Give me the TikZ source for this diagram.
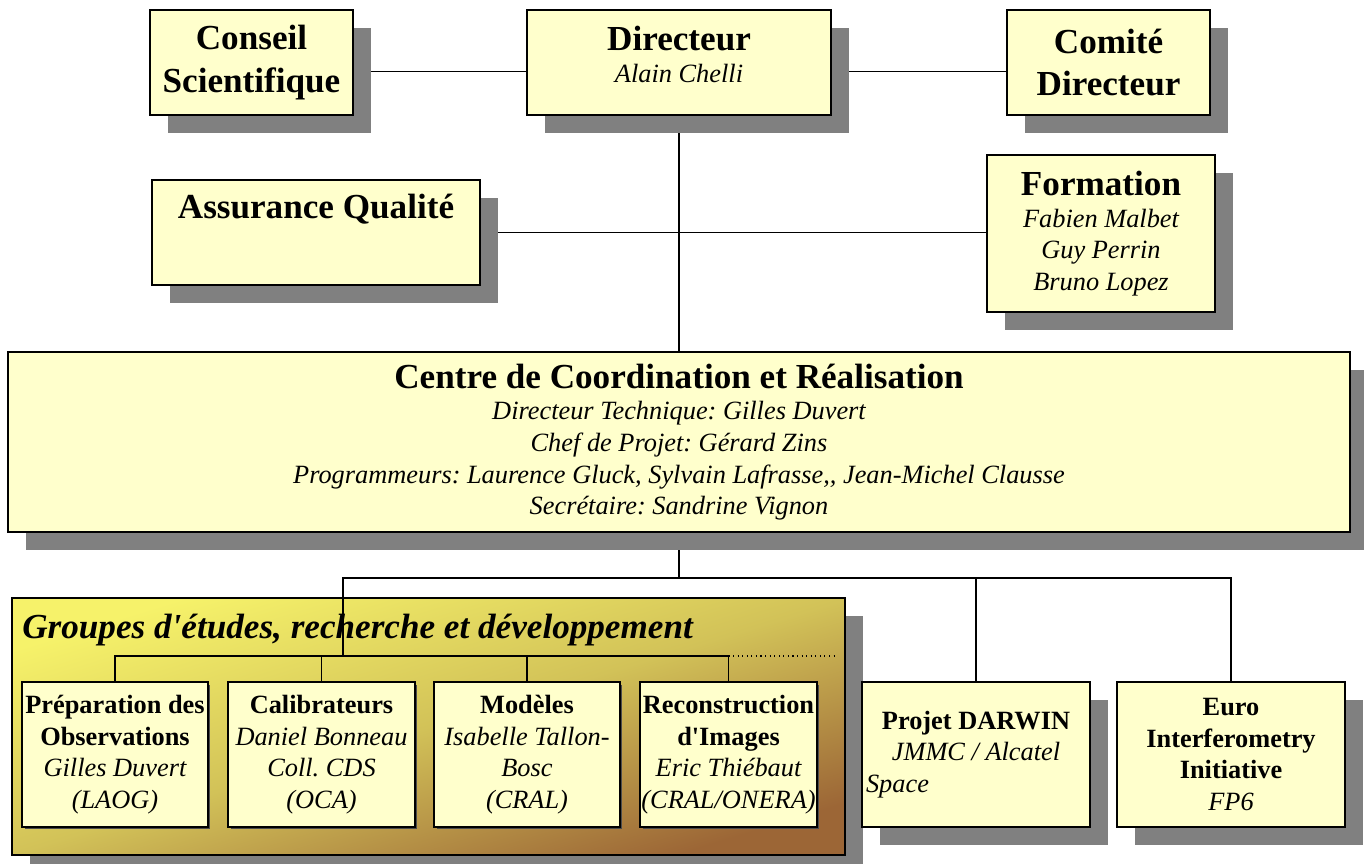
\documentclass[tikz,border=0pt]{standalone}
\usepackage{fontspec}
\setmainfont{Liberation Serif}
\usetikzlibrary{positioning,shadows,backgrounds}
\definecolor{boxYel}{HTML}{FFFFCC}
\definecolor{grpTop}{HTML}{F6F26A}
\definecolor{grpMid}{HTML}{D2C258}
\definecolor{grpBot}{HTML}{9C6636}
\newcommand{\hdB}{\fontsize{20}{24}\selectfont\bfseries\upshape}
\newcommand{\smB}{\fontsize{15}{18}\selectfont\bfseries\upshape}
\newcommand{\nmI}{\fontsize{15}{18}\selectfont\mdseries\itshape}
\frenchspacing

\begin{document}
\begin{tikzpicture}[x=0.02cm,y=-0.02cm,
                    orgND/.style={rectangle,
                                  draw=black,
                                  line width=1.1pt,
                                  fill=boxYel,
                                  drop shadow={shadow xshift=0.36cm,
                                               shadow yshift=-0.36cm,
                                               fill=black!50,
                                               opacity=1},
                                  align=center,
                                  inner sep=0pt,
                                  font=\nmI},
                    subND/.style={orgND,
                                  minimum height=2.9cm},
                    grpND/.style={rectangle,
                                  draw=black,
                                  line width=1.1pt,
                                  fill=boxYel,
                                  drop shadow={shadow xshift=0.05cm,
                                               shadow yshift=-0.05cm,
                                               fill=black!70,
                                               opacity=1},
                                  align=center,
                                  inner sep=0pt,
                                  minimum height=2.9cm,
                                  font=\nmI},
                    txtND/.style={align=center,
                                  inner sep=0pt,
                                  font=\nmI},
                    lnND/.style={line width=1pt}]
    \useasboundingbox (0,0) rectangle (1364,864);
    % top row
    \node[orgND, minimum width=4.06cm, minimum height=2.1cm, font=\hdB](cons) at (251.5,62.5)
        {Conseil\\Scientifique};
    \node[orgND, minimum width=6.08cm, minimum height=2.1cm](dir) at (679,62.5) {};
    \node[txtND, below=0.34cm of dir.north](dirT) {\hdB Directeur\\\nmI Alain Chelli};
    \node[orgND, minimum width=4.06cm, minimum height=2.1cm, font=\hdB](comi) at (1108.5,62.5)
        {Comité\\Directeur};
    % second row
    \node[orgND, minimum width=6.56cm, minimum height=2.1cm](assu) at (316,232.5) {};
    \node[txtND, below=0.3cm of assu.north](assuT) {\hdB Assurance Qualité};
    \node[orgND, minimum width=4.56cm, minimum height=3.14cm](form) at (1101,233.5)
        {\hdB Formation\\\nmI Fabien Malbet\\\nmI Guy Perrin\\\nmI Bruno Lopez};
    % centre
    \node[orgND, minimum width=26.84cm, minimum height=3.6cm](ctr) at (679,442)
        {\hdB Centre de Coordination et Réalisation\\
         \nmI Directeur Technique: Gilles Duvert\\
         \nmI Chef de Projet: Gérard Zins\\
         \nmI Programmeurs: Laurence Gluck, Sylvain Lafrasse,\kern0pt, Jean-Michel Clausse\\
         \nmI Secrétaire: Sandrine Vignon};
    % groupes
    \node[orgND, minimum width=16.66cm, minimum height=5.14cm,
          top color=grpTop, bottom color=grpBot, middle color=grpMid,
          shading angle=17](grp) at (428.5,726.5) {};
    \node[anchor=west, inner sep=0pt,
          font=\fontsize{20}{24}\selectfont\bfseries\itshape](grpT) at (22,630)
        {Groupes d\textquotesingle études, recherche et développement};
    \node[grpND, minimum width=3.72cm](prep) at (115,754.5)
        {\smB Préparation des\\\smB Observations\\\nmI Gilles Duvert\\\nmI (LAOG)};
    \node[grpND, minimum width=3.74cm](cali) at (321.5,754.5)
        {\smB Calibrateurs\\\nmI Daniel Bonneau\\\nmI Coll. CDS\\\nmI (OCA)};
    \node[grpND, minimum width=3.72cm](mode) at (527,754.5)
        {\smB Modèles\\\nmI Isabelle Tallon-\\\nmI Bosc\\\nmI (CRAL)};
    \node[grpND, minimum width=3.54cm](reco) at (728.5,754.5)
        {\smB Reconstruction\\\smB d\textquotesingle Images\\\nmI Eric Thiébaut\\\nmI (CRAL/ONERA)};
    % projets
    \node[subND, minimum width=4.56cm](darw) at (976,754.5)
        {\smB Projet DARWIN\\\nmI JMMC / Alcatel\\\nmI\makebox[4.4cm][l]{Space}};
    \node[subND, minimum width=4.56cm](euro) at (1231,754.5)
        {\smB Euro\\\smB Interferometry\\\smB Initiative\\\nmI FP6};
    % connectors
    \coordinate (bus) at (679,578);
    \coordinate (grpBus) at (343,656);
    \coordinate (dotEnd) at (835,656);
    \begin{scope}[on background layer]
        \draw[lnND] ([yshift=-0.18cm]cons.east) -- ([yshift=-0.18cm]dir.west);
        \draw[lnND] ([yshift=-0.18cm]dir.east) -- ([yshift=-0.18cm]comi.west);
        \draw[lnND] (dir.south) -- (ctr.north);
        \draw[lnND] (assu.east) -- (assu.east -| form.west);
        \draw[lnND] (ctr.south) -- (bus);
        \draw[lnND] (bus -| darw.north) -- (darw.north);
        \draw[lnND] (bus) -| (euro.north);
    \end{scope}
    \draw[lnND] (bus) -| (grpBus);
    \draw[lnND] (prep.north) |- (grpBus) -| (reco.north);
    \draw[lnND] (cali.north) -- (cali.north |- grpBus);
    \draw[lnND] (mode.north) -- (mode.north |- grpBus);
    \draw[dotted, line width=0.6pt] (reco.north |- grpBus) -- (dotEnd);
\end{tikzpicture}
\end{document}
